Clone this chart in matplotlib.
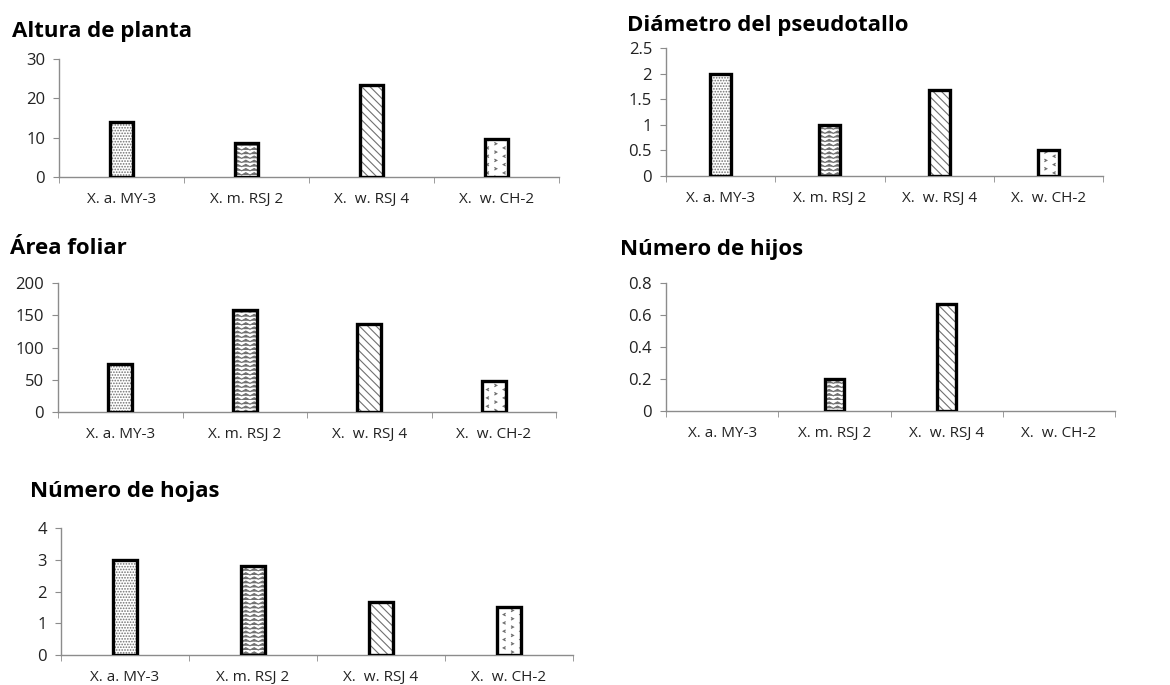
"""
Five small bar panels (Excel style) with hatched bars.
"""
import warnings
import numpy as np
import matplotlib
matplotlib.use("Agg")
from matplotlib import pyplot as plt
from matplotlib import hatch as mhatch
from matplotlib.path import Path
from matplotlib.ticker import FuncFormatter

warnings.filterwarnings("ignore")

# -------------------------
# data
# -------------------------
cepas = ["X. a. MY-3", "X. m. RSJ 2", "X.  w. RSJ 4", "X.  w. CH-2"]

altura = [14.0, 8.6, 23.4, 9.6]
diametro = [2.0, 1.0, 1.67, 0.5]
area = [74, 158, 136, 48]
hijos = [0, 0.2, 0.667, 0]
hojas = [3.0, 2.8, 1.67, 1.52]

titles = ["Altura de planta", "Diámetro del pseudotallo", "Área foliar",
          "Número de hijos", "Número de hojas"]
ymax = [30, 2.5, 200, 0.8, 4]
ystep = [10, 0.5, 50, 0.2, 1]


# -------------------------
# custom hatches: zigzag ('z') and small chevrons ('c')
# -------------------------
class ZigZag(mhatch.HatchPatternBase):
    def __init__(self, hatch, density):
        self.num_lines = int(hatch.count('z') * density)
        self.peaks = max(self.num_lines // 2, 1)
        self.num_vertices = self.num_lines * (2 * self.peaks + 1)

    def set_vertices_and_codes(self, vertices, codes):
        n = 2 * self.peaks + 1
        step = 1.0 / self.num_lines
        xs = np.linspace(0, 1, n)
        amp = np.tile([0, 1], self.peaks + 1)[:n] * step * 0.55
        for i in range(self.num_lines):
            y = i * step
            vertices[i * n:(i + 1) * n, 0] = xs
            vertices[i * n:(i + 1) * n, 1] = y + amp
            codes[i * n] = Path.MOVETO
            codes[i * n + 1:(i + 1) * n] = Path.LINETO


class Chevrons(mhatch.HatchPatternBase):
    def __init__(self, hatch, density):
        self.n = int(hatch.count('c') * density)
        self.num_vertices = self.n * self.n * 3

    def set_vertices_and_codes(self, vertices, codes):
        s = 1.0 / self.n
        k = 0
        for i in range(self.n):
            for j in range(self.n):
                cx = (i + 0.5) * s
                cy = (j + 0.25) * s + (0.5 * s if i % 2 else 0)
                d = 0.12 * s if i % 2 == 0 else -0.12 * s
                vertices[k:k + 3] = [(cx + d, cy + 0.13 * s),
                                     (cx - d, cy),
                                     (cx + d, cy - 0.13 * s)]
                codes[k] = Path.MOVETO
                codes[k + 1:k + 3] = Path.LINETO
                k += 3


mhatch._hatch_types.extend([ZigZag, Chevrons])

hatches = ['......', 'zzzz', '\\\\\\\\', 'cc']

plt.rcParams['hatch.linewidth'] = 0.8
plt.rcParams['font.family'] = ['Open Sans', 'DejaVu Sans']

W, H = 1170, 685
fig = plt.figure(figsize=(W / 100, H / 100), dpi=100)

# axes boxes in pixels: left, right, top, bottom
boxes = [(59, 559, 59, 177), (666, 1103, 48, 176), (58, 556, 283, 412),
         (666, 1115, 283, 411), (61, 573, 528, 655)]
title_pos = [(12, 32), (627, 25), (10, 248), (620, 250), (30, 492)]
widths = [0.19, 0.19, 0.19, 0.17, 0.19]

series = [altura, diametro, area, hijos, hojas]

grey = '#8c8c8c'
hatch_grey = '#707070'
for k, vals in enumerate(series):
    l, r, t, b = boxes[k]
    ax = fig.add_axes([l / W, 1 - b / H, (r - l) / W, (b - t) / H])
    x = np.arange(len(cepas))
    for i, v in enumerate(vals):
        if v > 0:
            # hatch takes the edge colour, so draw fill+hatch and outline apart
            ax.bar(x[i], v, width=widths[k], facecolor='white',
                   edgecolor=hatch_grey, linewidth=0, hatch=hatches[i],
                   zorder=3)
            ax.bar(x[i], v, width=widths[k], fill=False,
                   edgecolor='black', linewidth=2.4, zorder=4)
    ax.set_xlim(-0.5, len(cepas) - 0.5)
    ax.set_ylim(0, ymax[k])
    ax.set_yticks(np.arange(0, ymax[k] + ystep[k] / 2, ystep[k]))
    ax.yaxis.set_major_formatter(FuncFormatter(lambda v, p: '%g' % round(v, 2)))
    ax.set_xticks(x)
    ax.set_xticklabels(cepas)
    ax.set_xticks(np.arange(-0.5, len(cepas)), minor=True)
    ax.tick_params(axis='x', which='major', length=0, pad=11, labelsize=11,
                   labelcolor='#222222')
    ax.tick_params(axis='x', which='minor', length=4, color=grey)
    ax.tick_params(axis='y', length=4, color=grey, labelsize=12, pad=6,
                   labelcolor='#222222')
    for s in ['top', 'right']:
        ax.spines[s].set_visible(False)
    for s in ['left', 'bottom']:
        ax.spines[s].set_color(grey)
        ax.spines[s].set_linewidth(1.0)
    tx, ty = title_pos[k]
    fig.text(tx / W, 1 - ty / H, titles[k], fontsize=16, fontweight='bold',
             ha='left', va='center')

plt.savefig('out.png', dpi=100)
